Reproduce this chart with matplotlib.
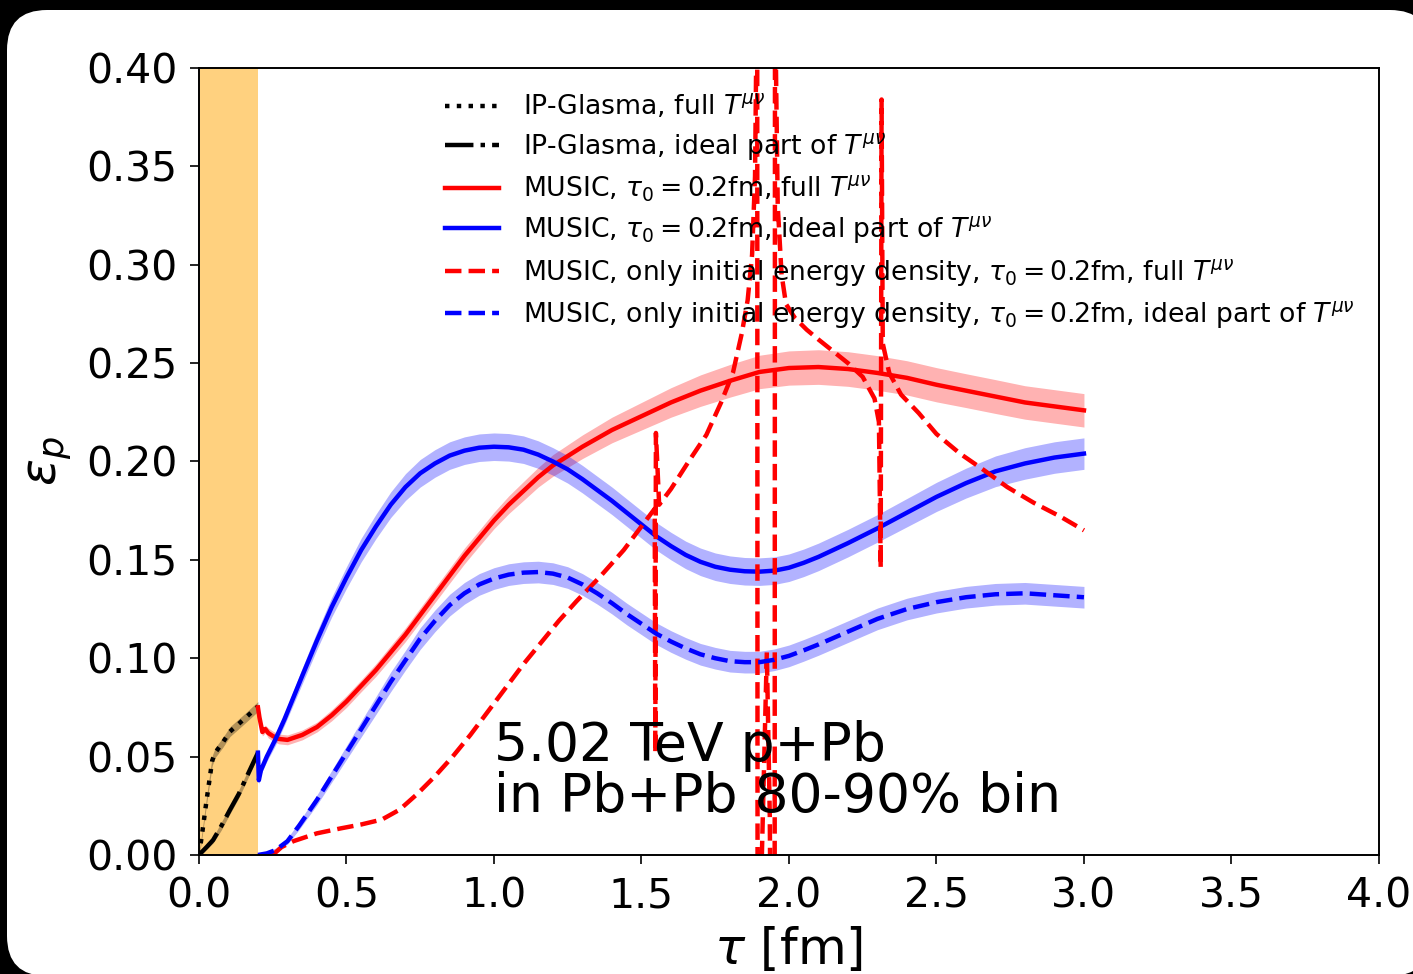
import matplotlib
matplotlib.use("Agg")
import matplotlib.pyplot as plt
from matplotlib.patches import FancyBboxPatch
from matplotlib.transforms import IdentityTransform
import numpy as np

# IP-Glasma, full T^{mu nu}
tau_glasma_full = [0.0, 0.01, 0.026, 0.045, 0.055, 0.08, 0.105, 0.13, 0.162, 0.20]
eps_glasma_full = [0.0, 0.010, 0.028, 0.048, 0.052, 0.057, 0.0627, 0.066, 0.0703, 0.0755]
err_glasma_full = [0.001, 0.0015, 0.002, 0.0025, 0.0025, 0.0025, 0.0025, 0.0025, 0.0025, 0.0025]

# IP-Glasma, ideal part
tau_glasma_ideal = [0.0, 0.026, 0.048, 0.075, 0.105, 0.135, 0.162, 0.20]
eps_glasma_ideal = [0.0, 0.004, 0.0076, 0.0145, 0.0229, 0.031, 0.0398, 0.052]
err_glasma_ideal = [0.0005, 0.001, 0.0015, 0.002, 0.002, 0.002, 0.002, 0.002]

# MUSIC full T^{mu nu}
tau_music_full = [0.20, 0.205, 0.215, 0.225, 0.235, 0.25, 0.27, 0.30, 0.35, 0.40, 0.45,
                  0.50, 0.55, 0.60, 0.65, 0.70, 0.75, 0.80, 0.85, 0.90, 0.95, 1.00,
                  1.05, 1.10, 1.15, 1.20, 1.30, 1.40, 1.50, 1.60, 1.70, 1.80, 1.90,
                  2.00, 2.10, 2.20, 2.30, 2.40, 2.50, 2.60, 2.70, 2.80, 2.90, 3.00]
eps_music_full = [0.075, 0.070, 0.0625, 0.064, 0.062, 0.0605, 0.059, 0.0585, 0.061, 0.065, 0.071,
                  0.078, 0.086, 0.094, 0.103, 0.112, 0.122, 0.132, 0.142, 0.152, 0.161, 0.170,
                  0.178, 0.185, 0.192, 0.198, 0.2075, 0.216, 0.223, 0.230, 0.236, 0.241, 0.2455,
                  0.2475, 0.248, 0.247, 0.245, 0.2425, 0.239, 0.236, 0.233, 0.230, 0.228, 0.226]
err_music_full = [0.002, 0.002, 0.002, 0.002, 0.0025, 0.0025, 0.0025, 0.0025, 0.0025, 0.0025, 0.0028,
                  0.003, 0.003, 0.0032, 0.0034, 0.0035, 0.0036, 0.0037, 0.0038, 0.004, 0.004, 0.0042,
                  0.0045, 0.0048, 0.005, 0.0055, 0.006, 0.0065, 0.007, 0.0075, 0.008, 0.0083, 0.0085,
                  0.0087, 0.0088, 0.0088, 0.0088, 0.0087, 0.0087, 0.0086, 0.0086, 0.0085, 0.0085, 0.0085]

# MUSIC ideal part
tau_music_ideal = [0.20, 0.203, 0.21, 0.23, 0.26, 0.29, 0.32, 0.35, 0.40, 0.45, 0.50,
                   0.55, 0.60, 0.65, 0.70, 0.75, 0.80, 0.85, 0.90, 0.95, 1.00, 1.05,
                   1.10, 1.15, 1.20, 1.25, 1.30, 1.35, 1.40, 1.45, 1.50, 1.55, 1.60,
                   1.65, 1.70, 1.75, 1.80, 1.85, 1.90, 1.95, 2.00, 2.05, 2.10, 2.15,
                   2.20, 2.30, 2.40, 2.50, 2.60, 2.70, 2.80, 2.90, 3.00]
eps_music_ideal = [0.052, 0.038, 0.043, 0.050, 0.059, 0.069, 0.080, 0.091, 0.109, 0.126, 0.141,
                   0.155, 0.167, 0.178, 0.187, 0.194, 0.199, 0.203, 0.2055, 0.207, 0.2075, 0.2072,
                   0.206, 0.2035, 0.200, 0.196, 0.191, 0.1855, 0.180, 0.174, 0.168, 0.162, 0.157,
                   0.1525, 0.149, 0.1465, 0.145, 0.1442, 0.144, 0.1445, 0.146, 0.1485, 0.1515, 0.155,
                   0.1585, 0.166, 0.174, 0.182, 0.189, 0.195, 0.199, 0.202, 0.204]
err_music_ideal = [0.002, 0.002, 0.002, 0.0025, 0.003, 0.003, 0.0035, 0.004, 0.0045, 0.005, 0.0055,
                   0.006, 0.0062, 0.0065, 0.0068, 0.007, 0.007, 0.007, 0.007, 0.007, 0.007, 0.007,
                   0.007, 0.007, 0.007, 0.007, 0.007, 0.007, 0.007, 0.007, 0.007, 0.007, 0.007,
                   0.007, 0.007, 0.007, 0.007, 0.007, 0.007, 0.007, 0.007, 0.007, 0.007, 0.007,
                   0.007, 0.007, 0.0072, 0.0074, 0.0076, 0.0078, 0.008, 0.008, 0.008]

# MUSIC, only initial energy density, full T^{mu nu}
tau_init_full = [0.25, 0.28, 0.32, 0.40, 0.48, 0.55, 0.62, 0.68, 0.74, 0.80, 0.86, 0.92,
                 0.98, 1.04, 1.10, 1.16, 1.22, 1.28, 1.36, 1.44, 1.50, 1.53, 1.545, 1.547,
                 1.549, 1.56, 1.60, 1.66, 1.72, 1.77, 1.81, 1.84, 1.86, 1.875, 1.885, 1.89,
                 1.892, 1.894, 1.905, 1.925, 1.935, 1.945, 1.951, 1.953, 1.956, 1.962, 1.975,
                 1.99, 2.02, 2.06, 2.10, 2.15, 2.20, 2.25, 2.29, 2.305, 2.311, 2.314, 2.318,
                 2.34, 2.38, 2.44, 2.50, 2.58, 2.66, 2.74, 2.83, 2.92, 3.00]
eps_init_full = [0.0, 0.004, 0.007, 0.011, 0.0135, 0.0155, 0.018, 0.023, 0.031, 0.040, 0.050, 0.061,
                 0.073, 0.085, 0.097, 0.108, 0.119, 0.129, 0.1415, 0.155, 0.167, 0.173, 0.176, 0.052,
                 0.2145, 0.178, 0.186, 0.200, 0.2135, 0.230, 0.245, 0.265, 0.282, 0.305, 0.345, 0.42,
                 0.60, -0.20, -0.02, 0.103, 0.02, -0.20, -0.30, 0.60, 0.40, 0.33, 0.295,
                 0.280, 0.273, 0.267, 0.262, 0.256, 0.250, 0.243, 0.232, 0.220, 0.146, 0.384, 0.260,
                 0.245, 0.234, 0.2246, 0.214, 0.204, 0.1957, 0.187, 0.179, 0.172, 0.165]

# MUSIC, only initial energy density, ideal part
tau_init_ideal = [0.20, 0.23, 0.26, 0.30, 0.34, 0.40, 0.45, 0.50, 0.55, 0.60, 0.65, 0.70,
                  0.75, 0.80, 0.85, 0.90, 0.95, 1.00, 1.05, 1.10, 1.15, 1.20, 1.25, 1.30,
                  1.35, 1.40, 1.45, 1.50, 1.55, 1.60, 1.65, 1.70, 1.75, 1.80, 1.85, 1.90,
                  1.95, 2.00, 2.05, 2.10, 2.20, 2.30, 2.40, 2.50, 2.60, 2.70, 2.80, 2.90, 3.00]
eps_init_ideal = [0.0, 0.0008, 0.0025, 0.007, 0.015, 0.028, 0.040, 0.052, 0.064, 0.076, 0.088, 0.099,
                  0.110, 0.119, 0.127, 0.133, 0.1375, 0.1405, 0.1425, 0.1435, 0.1438, 0.143, 0.141, 0.1375,
                  0.133, 0.128, 0.1225, 0.1175, 0.1125, 0.1085, 0.105, 0.102, 0.100, 0.0985, 0.098, 0.098,
                  0.0992, 0.1012, 0.104, 0.107, 0.1135, 0.120, 0.125, 0.1285, 0.131, 0.1325, 0.133, 0.132, 0.131]
err_init_ideal = [0.0005, 0.001, 0.001, 0.0015, 0.002, 0.0025, 0.003, 0.0035, 0.004, 0.0045, 0.005, 0.005,
                  0.0055, 0.0055, 0.0055, 0.0055, 0.0055, 0.0055, 0.0055, 0.0055, 0.0055, 0.0055, 0.0055, 0.0055,
                  0.0055, 0.0055, 0.0055, 0.0055, 0.0055, 0.0055, 0.0055, 0.0055, 0.0055, 0.0055, 0.0055, 0.0055,
                  0.0055, 0.0055, 0.0055, 0.0055, 0.0055, 0.0055, 0.0055, 0.0055, 0.0055, 0.0055, 0.0055, 0.0055, 0.0055]

labels = [r"IP-Glasma, full $T^{\mu\nu}$",
          r"IP-Glasma, ideal part of $T^{\mu\nu}$",
          r"MUSIC, $\tau_0=0.2$fm, full $T^{\mu\nu}$",
          r"MUSIC, $\tau_0=0.2$fm, ideal part of $T^{\mu\nu}$",
          r"MUSIC, only initial energy density, $\tau_0=0.2$fm, full $T^{\mu\nu}$",
          r"MUSIC, only initial energy density, $\tau_0=0.2$fm, ideal part of $T^{\mu\nu}$"]


def band(ax, t, e, err, color):
    t = np.array(t)
    e = np.array(e)
    err = np.array(err)
    ax.fill_between(t, e - err, e + err, color=color, alpha=0.3, linewidth=0)


fig = plt.figure(figsize=(14.13, 9.74), dpi=100, facecolor="black")
bg = FancyBboxPatch((7, -2), 1423, 966, boxstyle="round,pad=0,rounding_size=40",
                    transform=IdentityTransform(), facecolor="white", edgecolor="none", zorder=-10)
fig.add_artist(bg)

ax = fig.add_axes([0.1408, 0.1222, 0.8351, 0.808])
ax.axvspan(0, 0.2, color="orange", alpha=0.5, linewidth=0)

lw = 3.2
band(ax, tau_glasma_full, eps_glasma_full, err_glasma_full, "black")
ax.plot(tau_glasma_full, eps_glasma_full, ":", color="black", lw=lw, label=labels[0])
band(ax, tau_glasma_ideal, eps_glasma_ideal, err_glasma_ideal, "black")
ax.plot(tau_glasma_ideal, eps_glasma_ideal, "-.", color="black", lw=lw, label=labels[1])

band(ax, tau_music_full, eps_music_full, err_music_full, "red")
ax.plot(tau_music_full, eps_music_full, "-", color="red", lw=lw, label=labels[2])
band(ax, tau_music_ideal, eps_music_ideal, err_music_ideal, "blue")
ax.plot(tau_music_ideal, eps_music_ideal, "-", color="blue", lw=lw, label=labels[3])

ax.plot(tau_init_full, eps_init_full, "--", color="red", lw=lw, label=labels[4])
band(ax, tau_init_ideal, eps_init_ideal, err_init_ideal, "blue")
ax.plot(tau_init_ideal, eps_init_ideal, "--", color="blue", lw=lw, label=labels[5])

ax.set_xlim(0, 4)
ax.set_ylim(0, 0.4)
ax.set_xticks(np.arange(0, 4.01, 0.5))
ax.set_yticks(np.arange(0, 0.401, 0.05))
ax.xaxis.set_major_formatter(matplotlib.ticker.FormatStrFormatter("%.1f"))
ax.yaxis.set_major_formatter(matplotlib.ticker.FormatStrFormatter("%.2f"))
ax.tick_params(labelsize=29.5, length=6.5, width=1.2, pad=9)
for s in ax.spines.values():
    s.set_linewidth(1.4)

ax.set_xlabel(r"$\tau$ [fm]", fontsize=36, labelpad=6)
ax.set_ylabel(r"$\varepsilon_p$", fontsize=36, labelpad=9)

ax.text(1.0, 0.016, "5.02 TeV p+Pb\nin Pb+Pb 80-90% bin", fontsize=38.6,
        va="bottom", ha="left", linespacing=0.98)

ax.legend(loc="upper left", bbox_to_anchor=(0.188, 1.0), frameon=False, fontsize=19.2,
          handlelength=2.05, handletextpad=0.9, labelspacing=0.385)

fig.savefig("out.png", dpi=100, facecolor=fig.get_facecolor())
